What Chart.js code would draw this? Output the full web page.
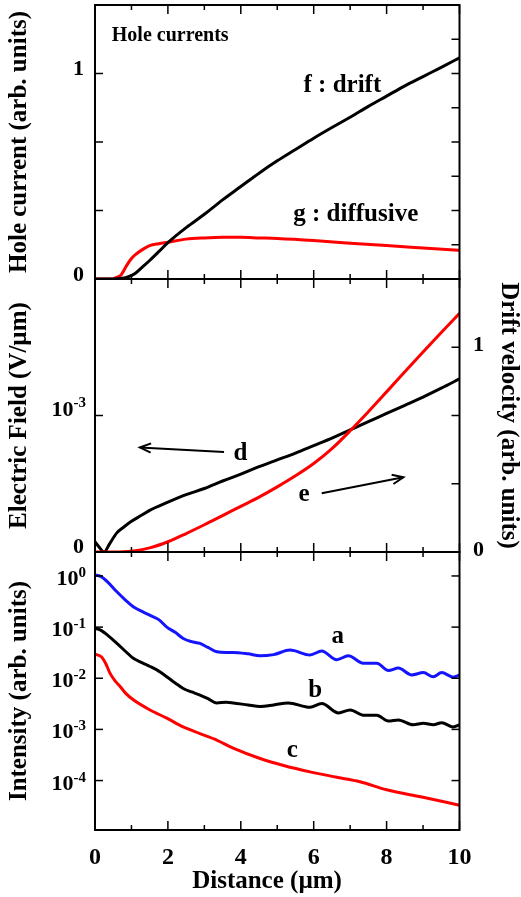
<!DOCTYPE html>
<html>
<head>
<meta charset="utf-8">
<script src="https://cdn.jsdelivr.net/npm/chart.js@4/dist/chart.umd.min.js"></script>
<style>
  body { margin: 0; background: #fff; width: 521px; height: 897px; position: relative; overflow: hidden; }
  .panel { position: absolute; left: 0; width: 521px; }
</style>
</head>
<body>
<div class="panel" style="top:0px;height:284px"><canvas id="top_chart"></canvas></div>
<div class="panel" style="top:270px;height:290px"><canvas id="mid_chart"></canvas></div>
<div class="panel" style="top:545px;height:352px"><canvas id="bot_chart"></canvas></div>
<script>
const RED = '#ff0000';
const BLUE = '#1414ff';
const BLACK = '#000000';
const FONT = "'Liberation Serif', 'Times New Roman', serif";

const X_TICKS = [0, 1, 2, 3, 4, 5, 6, 7, 8, 9, 10];

// top panel : hole currents
const driftX = [0, 0.5, 0.7, 0.9, 1.1, 1.3, 1.5, 1.75, 2, 2.5, 3, 3.5, 4, 4.5, 5, 5.5, 6, 6.5, 7, 7.5, 8, 8.5, 9, 9.5, 10];
const driftY = [0, 0, 0.002, 0.01, 0.027, 0.058, 0.09, 0.133, 0.177, 0.25, 0.315, 0.385, 0.45, 0.515, 0.575, 0.63, 0.685, 0.737, 0.787, 0.84, 0.89, 0.94, 0.985, 1.03, 1.076];
const diffX = [0, 0.45, 0.6, 0.7, 0.87, 1.0, 1.14, 1.3, 1.5, 1.75, 2, 2.5, 3, 3.5, 4, 4.5, 5, 6, 7, 8, 9, 10];
const diffY = [0, 0, 0.008, 0.017, 0.066, 0.1, 0.123, 0.143, 0.162, 0.172, 0.179, 0.194, 0.2, 0.203, 0.203, 0.2, 0.197, 0.187, 0.174, 0.163, 0.151, 0.139];
const holeTicksLeft = [1/3, 2/3, 1];
const holeTicksRight = [1/6, 1/3, 1/2, 2/3, 5/6, 1, 7/6];
const holeLabels = [0, 1];

// middle panel : electric field (left) and drift velocity (right)
const fieldX = [0, 0.1, 0.25, 0.4, 0.6, 0.8, 1, 1.25, 1.5, 2, 2.5, 3, 3.5, 4, 4.5, 5, 5.5, 6, 6.5, 7, 7.5, 8, 8.5, 9, 9.5, 10];
const fieldY = [0.075e-3, 0.04e-3, 0, 0.06e-3, 0.14e-3, 0.185e-3, 0.225e-3, 0.265e-3, 0.305e-3, 0.365e-3, 0.42e-3, 0.465e-3, 0.52e-3, 0.57e-3, 0.625e-3, 0.675e-3, 0.725e-3, 0.78e-3, 0.835e-3, 0.895e-3, 0.955e-3, 1.015e-3, 1.075e-3, 1.135e-3, 1.2e-3, 1.268e-3];
const velX = [0, 0.5, 1, 1.5, 2, 2.5, 3, 3.5, 4, 4.5, 5, 5.5, 6, 6.5, 7, 7.5, 8, 8.5, 9, 9.5, 10];
const velY = [0, 0, 0.004, 0.02, 0.05, 0.09, 0.133, 0.178, 0.223, 0.268, 0.318, 0.372, 0.432, 0.505, 0.592, 0.685, 0.782, 0.88, 0.977, 1.072, 1.166];
const velTicks = [1/3, 2/3, 1];
const velLabels = [0, 1];

// bottom panel : intensity (log)
const aX = [0, 0.14, 0.35, 0.6, 0.85, 1.05, 1.3, 1.51, 1.75, 1.97, 2.2, 2.42, 2.65, 2.88, 3.1, 3.34, 3.6, 3.79, 4.2, 4.53, 4.9, 5.35, 5.9, 6.22, 6.63, 6.95, 7.36, 7.73, 8.05, 8.32, 8.69, 9.01, 9.28, 9.51, 9.83, 10];
const aY = [1.05, 0.99, 0.76, 0.49, 0.33, 0.25, 0.20, 0.17, 0.14, 0.10, 0.079, 0.060, 0.052, 0.048, 0.040, 0.033, 0.032, 0.032, 0.030, 0.0275, 0.029, 0.0355, 0.0285, 0.034, 0.023, 0.0275, 0.0196, 0.0196, 0.0141, 0.0158, 0.0116, 0.0129, 0.0107, 0.0129, 0.0105, 0.0116];
const bX = [0, 0.14, 0.35, 0.6, 0.85, 1.05, 1.3, 1.51, 1.75, 1.97, 2.2, 2.42, 2.65, 2.88, 3.1, 3.34, 3.6, 3.79, 4.2, 4.53, 4.9, 5.3, 5.9, 6.22, 6.68, 7.0, 7.36, 7.73, 8.05, 8.32, 8.73, 9.01, 9.28, 9.51, 9.83, 10];
const bY = [0.095, 0.088, 0.069, 0.048, 0.033, 0.0245, 0.020, 0.017, 0.0138, 0.0107, 0.0081, 0.0063, 0.0054, 0.0047, 0.0040, 0.0033, 0.0034, 0.0033, 0.0030, 0.0028, 0.0030, 0.0033, 0.0027, 0.0032, 0.0021, 0.0024, 0.0019, 0.0019, 0.00146, 0.00153, 0.00123, 0.00132, 0.00123, 0.00135, 0.00112, 0.00123];
const cX = [0, 0.18, 0.3, 0.41, 0.55, 0.69, 0.85, 1.05, 1.51, 1.97, 2.42, 2.88, 3.34, 3.79, 4.53, 5.2, 5.9, 6.6, 7.27, 8, 9, 10];
const cY = [0.0295, 0.026, 0.019, 0.0126, 0.0089, 0.0069, 0.005, 0.0038, 0.0024, 0.00166, 0.00112, 0.00083, 0.00062, 0.00043, 0.00027, 0.000195, 0.000148, 0.000117, 0.000095, 0.000066, 0.000047, 0.000033];
const logTicks = [1, 0.1, 0.01, 0.001, 0.0001];
const logExponents = ['0', '-1', '-2', '-3', '-4'];

Chart.defaults.font.family = FONT;
Chart.defaults.color = BLACK;

function points(xs, ys) {
  return xs.map((x, i) => ({x: x, y: ys[i]}));
}

function line(ctx, x0, y0, x1, y1) {
  ctx.beginPath();
  ctx.moveTo(x0, y0);
  ctx.lineTo(x1, y1);
  ctx.stroke();
}

function bold(size) {
  return 'bold ' + size + 'px ' + FONT;
}

// "10" with a raised exponent, right aligned at xr, baseline at y
function powerLabel(ctx, xr, y, exp, size, expSize, raise) {
  ctx.font = bold(expSize);
  const we = ctx.measureText(exp).width;
  ctx.textAlign = 'left';
  ctx.textBaseline = 'alphabetic';
  ctx.fillText(exp, xr - we, y - raise);
  ctx.font = bold(size);
  ctx.textAlign = 'right';
  ctx.fillText('10', xr - we, y);
}

// frame, inward ticks, tick labels, annotations and arrows
const framePlugin = {
  id: 'frame',
  afterDraw(chart, args, opts) {
    const ctx = chart.ctx;
    const a = chart.chartArea;
    const xs = chart.scales.x;
    ctx.save();
    ctx.strokeStyle = BLACK;
    ctx.fillStyle = BLACK;
    ctx.lineWidth = 2;
    ctx.strokeRect(a.left, a.top, a.right - a.left, a.bottom - a.top);
    ctx.lineWidth = 1.5;
    X_TICKS.forEach(v => {
      const px = xs.getPixelForValue(v);
      const len = v % 2 === 0 ? 9 : 5;
      line(ctx, px, a.top, px, a.top + len);
      line(ctx, px, a.bottom, px, a.bottom - len);
    });
    (opts.left || []).forEach(t => {
      const py = chart.scales[t.scale].getPixelForValue(t.value);
      line(ctx, a.left, py, a.left + 8, py);
    });
    (opts.right || []).forEach(t => {
      const py = chart.scales[t.scale].getPixelForValue(t.value);
      line(ctx, a.right, py, a.right - 8, py);
    });
    (opts.tickLabels || []).forEach(t => {
      const py = chart.scales[t.scale].getPixelForValue(t.value);
      ctx.font = bold(t.size);
      ctx.textBaseline = 'middle';
      if (t.side === 'right') {
        ctx.textAlign = 'left';
        ctx.fillText(t.text, a.right + 13.5, py + t.dy);
      } else {
        ctx.textAlign = 'right';
        ctx.fillText(t.text, a.left - 11, py + t.dy);
      }
    });
    (opts.powers || []).forEach(p => {
      const py = chart.scales[p.scale].getPixelForValue(p.value);
      powerLabel(ctx, a.left - 9, py + p.dy, p.exp, p.size, p.expSize, p.raise);
    });
    (opts.texts || []).forEach(t => {
      ctx.font = bold(t.size);
      ctx.textAlign = t.align || 'left';
      ctx.textBaseline = 'alphabetic';
      const px = xs.getPixelForValue(t.x);
      const py = t.scale ? chart.scales[t.scale].getPixelForValue(t.y) : a.bottom + t.dy;
      ctx.fillText(t.text, px, py);
    });
    ctx.lineWidth = 2;
    (opts.arrows || []).forEach(r => {
      const ys = chart.scales[r.scale];
      const x0 = xs.getPixelForValue(r.x0), y0 = ys.getPixelForValue(r.y0);
      const x1 = xs.getPixelForValue(r.x1), y1 = ys.getPixelForValue(r.y1);
      const ang = Math.atan2(y1 - y0, x1 - x0);
      line(ctx, x0, y0, x1, y1);
      ctx.beginPath();
      ctx.moveTo(x1 - 12 * Math.cos(ang - 0.4), y1 - 12 * Math.sin(ang - 0.4));
      ctx.lineTo(x1, y1);
      ctx.lineTo(x1 - 12 * Math.cos(ang + 0.4), y1 - 12 * Math.sin(ang + 0.4));
      ctx.stroke();
    });
    ctx.restore();
  }
};

function series(xs, ys, color, axis) {
  return {
    data: points(xs, ys),
    borderColor: color,
    borderWidth: 3,
    pointRadius: 0,
    tension: 0.4,
    cubicInterpolationMode: 'monotone',
    yAxisID: axis || 'y'
  };
}

function xScale(show) {
  const s = {
    type: 'linear', min: 0, max: 10, display: show,
    afterBuildTicks: sc => { sc.ticks = X_TICKS.map(v => ({value: v})); },
    grid: {display: false, drawTicks: false},
    border: {display: false},
    ticks: {
      padding: 16,
      font: {size: 24, weight: 'bold', lineHeight: 1},
      callback: v => (v % 2 === 0 ? String(v) : '')
    }
  };
  if (show) {
    s.afterFit = sc => { sc.height = 67; };
  }
  return s;
}

function yScale(extra) {
  return Object.assign({
    type: 'linear',
    grid: {display: false, drawTicks: false},
    border: {display: false},
    ticks: {display: false}
  }, extra);
}

function yTitle(text, pad) {
  return {display: true, text: text, font: {size: 25, weight: 'bold', lineHeight: 1}, padding: {top: pad, bottom: 0}};
}

const baseOptions = {
  responsive: true,
  maintainAspectRatio: false,
  animation: false,
  events: []
};

new Chart(document.getElementById('top_chart'), {
  type: 'line',
  data: {datasets: [series(driftX, driftY, BLACK), series(diffX, diffY, RED)]},
  options: Object.assign({}, baseOptions, {
    layout: {padding: {left: 0, right: 61.5, top: 5, bottom: 5}},
    plugins: {
      legend: {display: false},
      tooltip: {enabled: false},
      frame: {
        left: holeTicksLeft.map(v => ({scale: 'y', value: v})),
        right: holeTicksRight.map(v => ({scale: 'y', value: v})),
        tickLabels: holeLabels.map(v => ({scale: 'y', value: v, text: String(v), size: 22, dy: -4})),
        texts: [
          {text: 'Hole currents', x: 0.46, y: 1.16, scale: 'y', size: 20},
          {text: 'f : drift', x: 5.72, y: 0.909, scale: 'y', size: 25},
          {text: 'g : diffusive', x: 5.44, y: 0.281, scale: 'y', size: 25}
        ]
      }
    },
    scales: {
      x: xScale(false),
      y: yScale({
        min: 0, max: 4/3,
        afterFit: s => { s.width = 95; },
        title: yTitle('Hole current (arb. units)', 7.5)
      })
    }
  }),
  plugins: [framePlugin]
});

new Chart(document.getElementById('mid_chart'), {
  type: 'line',
  data: {datasets: [series(velX, velY, RED, 'yR'), series(fieldX, fieldY, BLACK, 'y')]},
  options: Object.assign({}, baseOptions, {
    layout: {padding: {left: 0, right: 0, top: 9, bottom: 8}},
    plugins: {
      legend: {display: false},
      tooltip: {enabled: false},
      frame: {
        left: [{scale: 'y', value: 1e-3}],
        right: velTicks.map(v => ({scale: 'yR', value: v})),
        tickLabels: [{scale: 'y', value: 0, text: '0', size: 22, dy: -5}]
          .concat(velLabels.map(v => ({scale: 'yR', value: v, text: String(v), size: 22, dy: -2, side: 'right'}))),
        powers: [{scale: 'y', value: 1e-3, exp: '-3', dy: 0, size: 22, expSize: 15, raise: 9}],
        texts: [
          {text: 'd', x: 3.8, y: 0.674e-3, scale: 'y', size: 25},
          {text: 'e', x: 5.58, y: 0.25, scale: 'yR', size: 25}
        ],
        arrows: [
          {scale: 'y', x0: 3.54, y0: 0.733e-3, x1: 1.23, y1: 0.766e-3},
          {scale: 'yR', x0: 6.22, y0: 0.287, x1: 8.46, y1: 0.365}
        ]
      }
    },
    scales: {
      x: xScale(false),
      y: yScale({
        position: 'left', min: 0, max: 2e-3,
        afterFit: s => { s.width = 95; },
        title: yTitle('Electric Field (V/\u00b5m)', 7.5)
      }),
      yR: yScale({
        position: 'right', min: 0, max: 4/3,
        afterFit: s => { s.width = 61.5; },
        title: yTitle('Drift velocity (arb. units)', 0)
      })
    }
  }),
  plugins: [framePlugin]
});

new Chart(document.getElementById('bot_chart'), {
  type: 'line',
  data: {datasets: [series(aX, aY, BLUE), series(bX, bY, BLACK), series(cX, cY, RED)]},
  options: Object.assign({}, baseOptions, {
    layout: {padding: {left: 0, right: 61.5, top: 7, bottom: 0}},
    plugins: {
      legend: {display: false},
      tooltip: {enabled: false},
      frame: {
        left: logTicks.map(v => ({scale: 'y', value: v})),
        right: logTicks.map(v => ({scale: 'y', value: v})),
        powers: logTicks.map((v, i) => ({scale: 'y', value: v, exp: logExponents[i], dy: 9, size: 22, expSize: 15, raise: 8})),
        texts: [
          {text: 'a', x: 6.49, y: 0.0483, scale: 'y', size: 25},
          {text: 'b', x: 5.85, y: 0.00425, scale: 'y', size: 25},
          {text: 'c', x: 5.26, y: 0.000293, scale: 'y', size: 25},
          {text: 'Distance (\u00b5m)', x: 4.72, dy: 58, size: 25, align: 'center'}
        ]
      }
    },
    scales: {
      x: xScale(true),
      y: yScale({
        type: 'logarithmic', min: 1.08e-5, max: 2.94,
        afterFit: s => { s.width = 95; },
        title: yTitle('Intensity (arb. units)', 7.5)
      })
    }
  }),
  plugins: [framePlugin]
});
</script>
</body>
</html>
